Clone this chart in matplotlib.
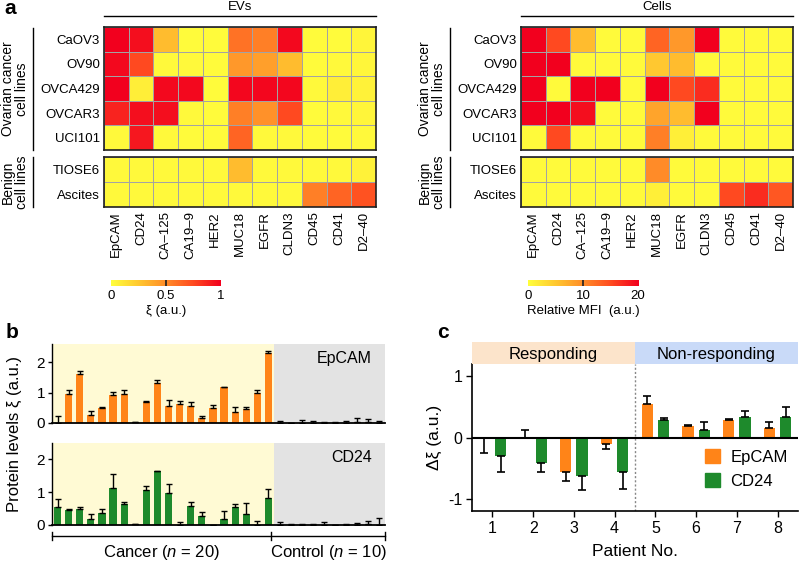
import matplotlib
matplotlib.use('Agg')
import matplotlib.pyplot as plt
import numpy as np
from matplotlib.colors import LinearSegmentedColormap
from matplotlib.lines import Line2D
from matplotlib.patches import Patch

plt.rcParams['font.family'] = ['Liberation Sans', 'DejaVu Sans']
plt.rcParams['mathtext.fontset'] = 'custom'
plt.rcParams['mathtext.it'] = 'Liberation Sans:italic'
plt.rcParams['mathtext.rm'] = 'Liberation Sans'

# ---------------- data ----------------
markers = ['EpCAM', 'CD24', 'CA\u2013125', 'CA19\u20139', 'HER2', 'MUC18', 'EGFR', 'CLDN3', 'CD45', 'CD41', 'D2\u201340']
cancer_lines = ['CaOV3', 'OV90', 'OVCA429', 'OVCAR3', 'UCI101']
benign_lines = ['TIOSE6', 'Ascites']

ev_cancer = [
    [1.00, 0.95, 0.30, 0.02, 0.02, 0.60, 0.55, 0.97, 0.02, 0.02, 0.05],
    [0.97, 0.75, 0.03, 0.03, 0.02, 0.45, 0.42, 0.30, 0.02, 0.03, 0.04],
    [1.00, 0.08, 0.97, 0.97, 0.02, 0.98, 0.98, 0.98, 0.03, 0.08, 0.06],
    [0.88, 0.95, 0.95, 0.03, 0.02, 0.55, 0.48, 0.75, 0.02, 0.03, 0.05],
    [0.03, 0.92, 0.03, 0.02, 0.02, 0.65, 0.03, 0.03, 0.02, 0.02, 0.03],
]
ev_benign = [
    [0.03, 0.03, 0.03, 0.03, 0.03, 0.30, 0.03, 0.03, 0.03, 0.03, 0.06],
    [0.03, 0.03, 0.03, 0.03, 0.03, 0.03, 0.03, 0.03, 0.55, 0.65, 0.72],
]
cell_cancer = [
    [20, 15, 6, 0.5, 0.5, 13, 9, 20, 0.5, 0.5, 0.5],
    [20, 20, 0.5, 0.5, 0.5, 5, 6, 0.5, 0.5, 0.5, 0.5],
    [20, 0.5, 20, 20, 0.5, 20, 15, 17, 0.5, 0.5, 0.5],
    [20, 20, 19, 0.5, 0.5, 8, 6, 20, 0.5, 0.5, 0.5],
    [0.5, 15, 0.5, 0.5, 0.5, 11, 1.5, 0.5, 0.5, 0.5, 0.5],
]
cell_benign = [
    [0.5, 0.5, 0.5, 0.5, 0.5, 10, 0.5, 0.5, 0.5, 0.5, 0.5],
    [0.5, 0.5, 0.5, 0.5, 0.5, 1.5, 0.5, 0.5, 15, 17, 14],
]

epcam_levels = [0.00, 0.97, 1.61, 0.25, 0.50, 0.93, 0.97, 0.02, 0.70, 1.33,
                0.57, 0.62, 0.56, 0.18, 0.50, 1.17, 0.37, 0.46, 0.98, 2.30,
                0.00, 0.00, 0.01, 0.01, 0.00, 0.01, 0.01, 0.02, 0.02, 0.01]
epcam_err = [0.22, 0.12, 0.10, 0.15, 0.02, 0.10, 0.10, 0.00, 0.02, 0.08,
             0.18, 0.10, 0.12, 0.05, 0.08, 0.01, 0.15, 0.08, 0.10, 0.08,
             0.07, 0.00, 0.08, 0.04, 0.03, 0.03, 0.04, 0.14, 0.12, 0.05]
cd24_levels = [0.55, 0.46, 0.48, 0.18, 0.38, 1.12, 0.63, 0.02, 1.08, 1.65,
               0.97, 0.00, 0.58, 0.26, 0.01, 0.17, 0.55, 0.33, 0.00, 0.82,
               0.00, 0.00, 0.00, 0.00, 0.00, 0.00, 0.00, 0.01, 0.02, 0.01]
cd24_err = [0.25, 0.02, 0.08, 0.15, 0.12, 0.45, 0.08, 0.00, 0.10, 0.01,
            0.28, 0.10, 0.12, 0.14, 0.00, 0.27, 0.08, 0.35, 0.12, 0.27,
            0.10, 0.02, 0.03, 0.02, 0.10, 0.00, 0.03, 0.06, 0.10, 0.20]

patients = [1, 2, 3, 4, 5, 6, 7, 8]
d_epcam = [0.00, 0.00, -0.57, -0.10, 0.55, 0.19, 0.29, 0.15]
d_epcam_err = [-0.26, 0.12, -0.14, -0.09, 0.13, 0.02, 0.02, 0.11]   # sign = direction
d_cd24 = [-0.31, -0.42, -0.63, -0.57, 0.29, 0.13, 0.34, 0.33]
d_cd24_err = [-0.25, -0.14, -0.22, -0.27, 0.03, 0.12, 0.10, 0.17]

ORANGE = '#FF8418'
GREEN = '#1E8A2C'

W, H = 800, 562
fig = plt.figure(figsize=(8, 5.62), dpi=100)


def add_ax(x0, y0, x1, y1):
    return fig.add_axes([x0 / W, 1 - y1 / H, (x1 - x0) / W, (y1 - y0) / H])


def fx(x):
    return x / W


def fy(y):
    return 1 - y / H


def fline(xs, ys, **kw):
    fig.add_artist(Line2D([fx(v) for v in xs], [fy(v) for v in ys], color='k', lw=1, **kw))


cmap = LinearSegmentedColormap.from_list(
    'heat', [(0, '#FFFF3C'), (0.25, '#FFC830'), (0.5, '#FF8C28'), (0.75, '#FF4A20'), (1, '#F2001E')])


def heat_block(ax, data, vmax, rows, show_x):
    arr = np.array(data, dtype=float)
    ax.pcolormesh(arr, cmap=cmap, vmin=0, vmax=vmax, edgecolors='#a3a3a3', linewidth=0.7)
    ax.set_xlim(0, arr.shape[1])
    ax.set_ylim(arr.shape[0], 0)
    ax.set_yticks(np.arange(arr.shape[0]) + 0.5)
    ax.set_yticklabels(rows, fontsize=9.5)
    if show_x:
        ax.set_xticks(np.arange(arr.shape[1]) + 0.5)
        ax.set_xticklabels(markers, rotation=90, fontsize=9.5)
    else:
        ax.set_xticks([])
    ax.tick_params(length=0, pad=3)
    for s in ax.spines.values():
        s.set_linewidth(1.2)
        s.set_color('#202020')


def heat_panel(x0, cdata, bdata, vmax, title, cticks, ctlabels, clabel):
    w = 272
    ax1 = add_ax(x0, 27, x0 + w, 150)
    heat_block(ax1, cdata, vmax, cancer_lines, False)
    ax2 = add_ax(x0, 157, x0 + w, 207)
    heat_block(ax2, bdata, vmax, benign_lines, True)
    fline([x0, x0 + w], [16, 16])
    fig.text(fx(x0 + w / 2), fy(7.5), title, ha='center', va='center', fontsize=9.5)
    gx = x0 - 71
    fline([gx, gx], [28, 150])
    fline([gx, gx], [157, 207])
    fig.text(fx(gx - 18), fy(89), 'Ovarian cancer\ncell lines', rotation=90,
             ha='center', va='center', fontsize=10, linespacing=1.0)
    fig.text(fx(gx - 18), fy(182), 'Benign\ncell lines', rotation=90,
             ha='center', va='center', fontsize=10, linespacing=1.0)
    cax = add_ax(x0 + 7, 280, x0 + 117, 286)
    grad = np.linspace(0, vmax, 256)[None, :]
    cax.imshow(grad, aspect='auto', cmap=cmap, vmin=0, vmax=vmax, extent=[0, vmax, 0, 1])
    cax.plot([vmax / 2, vmax / 2], [0, 1], color='#202020', lw=1.2)
    cax.set_xlim(0, vmax)
    cax.set_ylim(0, 1)
    cax.set_yticks([])
    cax.set_xticks(cticks)
    cax.set_xticklabels(ctlabels, fontsize=9.5)
    cax.tick_params(length=0, pad=3)
    cax.set_xlabel(clabel, fontsize=9.5, labelpad=2)
    for s in cax.spines.values():
        s.set_visible(False)


heat_panel(104, ev_cancer, ev_benign, 1.0, 'EVs', [0, 0.5, 1], ['0', '0.5', '1'], '\u03be (a.u.)')
heat_panel(521, cell_cancer, cell_benign, 20.0, 'Cells', [0, 10, 20], ['0', '10', '20'], 'Relative MFI  (a.u.)')

# ---------------- panel b ----------------
xb = np.arange(len(epcam_levels))


def bar_panel(ax, vals, errs, color, label, ytop):
    ax.axvspan(-0.5, 19.5, color='#FFFAD4', zorder=0, lw=0)
    ax.axvspan(19.5, 29.5, color='#E3E3E3', zorder=0, lw=0)
    ax.bar(xb, vals, width=0.64, color=color, zorder=2,
           yerr=[np.zeros(len(vals)), errs], capsize=2.2,
           error_kw=dict(lw=1, capthick=1, ecolor='k', zorder=3))
    ax.set_xlim(-0.5, 29.5)
    ax.set_ylim(0, ytop)
    ax.set_yticks([0, 1, 2])
    ax.set_xticks([])
    ax.tick_params(axis='y', length=3, width=1, labelsize=11, pad=2)
    for s in ['top', 'right']:
        ax.spines[s].set_visible(False)
    ax.spines['left'].set_linewidth(1)
    ax.spines['bottom'].set_linewidth(1.3)
    ax.text(0.96, 0.82, label, transform=ax.transAxes, ha='right', va='center', fontsize=11.5)


axb1 = add_ax(52, 344, 385, 423)
bar_panel(axb1, epcam_levels, epcam_err, ORANGE, 'EpCAM', 2.6)
axb2 = add_ax(52, 443, 385, 525)
bar_panel(axb2, cd24_levels, cd24_err, GREEN, 'CD24', 2.5)

fline([52, 385], [536, 536])
for xv in [52, 271, 385]:
    fline([xv, xv], [532, 540])
fig.text(fx(161), fy(553), 'Cancer ($n$ = 20)', ha='center', va='center', fontsize=12)
fig.text(fx(328), fy(553), 'Control ($n$ = 10)', ha='center', va='center', fontsize=12)
fig.text(fx(14), fy(434), 'Protein levels \u03be (a.u.)', rotation=90, ha='center', va='center', fontsize=12)

# ---------------- panel c ----------------
axc = add_ax(472, 364, 798, 511)
band = add_ax(472, 342, 798, 364)
band.axvspan(0.5, 4.5, color='#FCE4CB', lw=0)
band.axvspan(4.5, 8.5, color='#C9DAF8', lw=0)
band.set_xlim(0.5, 8.5)
band.set_ylim(0, 1)
band.text(2.5, 0.45, 'Responding', ha='center', va='center', fontsize=12)
band.text(6.5, 0.45, 'Non-responding', ha='center', va='center', fontsize=12)
band.axis('off')

p = np.array(patients)
de = np.array(d_epcam)
dc = np.array(d_cd24)
ee = np.array(d_epcam_err)
ec = np.array(d_cd24_err)
axc.bar(p - 0.2, de, 0.28, color=ORANGE, zorder=2,
        yerr=[np.clip(-ee, 0, None), np.clip(ee, 0, None)], capsize=3,
        error_kw=dict(lw=1.2, capthick=1.2, ecolor='k'))
axc.bar(p + 0.2, dc, 0.28, color=GREEN, zorder=2,
        yerr=[np.clip(-ec, 0, None), np.clip(ec, 0, None)], capsize=3,
        error_kw=dict(lw=1.2, capthick=1.2, ecolor='k'))
axc.axhline(0, color='k', lw=1.5, zorder=3)
axc.axvline(4.5, color='#888888', lw=1, ls=(0, (1.5, 1.5)), zorder=1)
axc.set_xlim(0.5, 8.5)
axc.set_ylim(-1.2, 1.2)
axc.set_xticks(patients)
axc.set_yticks([-1, 0, 1])
axc.set_yticklabels(['-1', '0', '1'])
axc.tick_params(length=4, width=1, labelsize=11.5, pad=3)
for s in ['top', 'right']:
    axc.spines[s].set_visible(False)
axc.spines['left'].set_linewidth(1.2)
axc.spines['bottom'].set_linewidth(1.2)
axc.set_xlabel('Patient No.', fontsize=12.5, labelpad=6)
axc.set_ylabel('\u0394\u03be (a.u.)', fontsize=12.5, labelpad=4)
axc.legend(handles=[Patch(color=ORANGE, label='EpCAM'), Patch(color=GREEN, label='CD24')],
           loc='lower left', bbox_to_anchor=(0.67, 0.05), frameon=False, fontsize=12,
           handlelength=0.9, handleheight=0.9, handletextpad=0.6, labelspacing=0.5)

fig.text(fx(10), fy(9), 'a', fontsize=15, fontweight='bold', ha='center', va='center')
fig.text(fx(12), fy(332), 'b', fontsize=15, fontweight='bold', ha='center', va='center')
fig.text(fx(443), fy(333), 'c', fontsize=15, fontweight='bold', ha='center', va='center')

fig.savefig('out.png', dpi=100)
